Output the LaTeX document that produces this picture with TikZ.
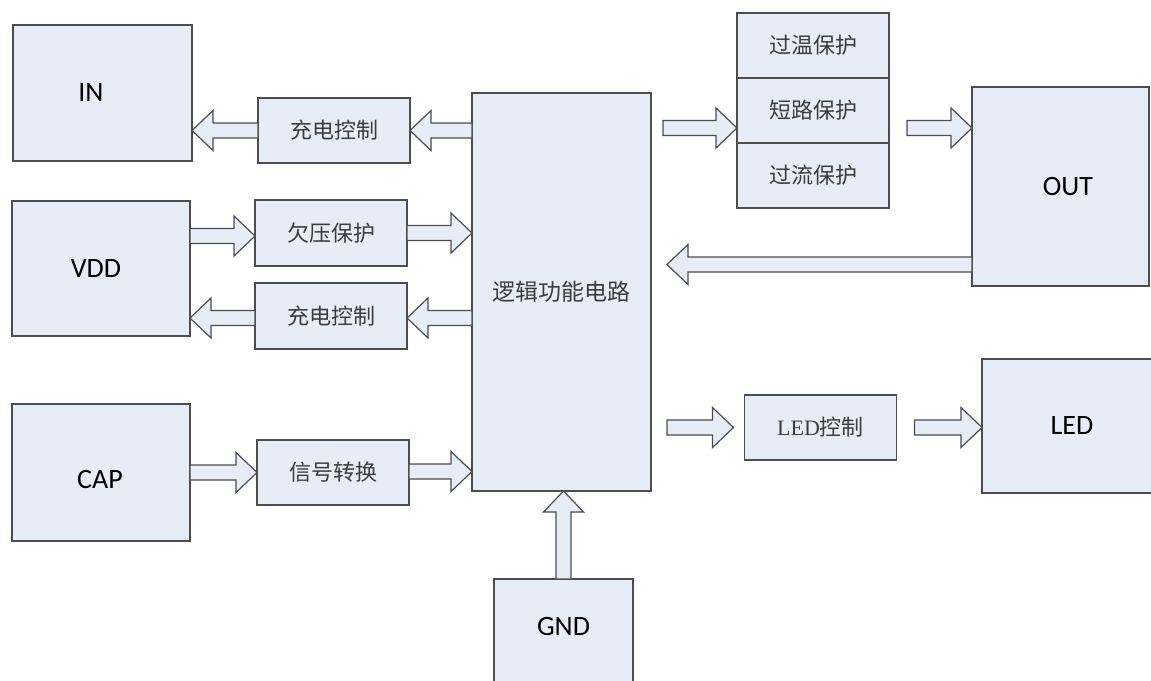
\documentclass[tikz,border=0pt]{standalone}
\usepackage{fontspec}
\usetikzlibrary{calc}
\newfontfamily\cjk{Noto Sans CJK SC}
\newfontfamily\lat{Carlito}
\newfontfamily\serifl{Liberation Serif}
\definecolor{boxfill}{HTML}{E7EDF6}
\definecolor{edge}{HTML}{4D4D4D}
\definecolor{cjktext}{HTML}{3C3C3C}
\tikzset{
  box/.style={draw=edge, fill=boxfill, line width=1.4pt, inner sep=0pt, outer sep=0pt},
  bigbox/.style={box, font=\lat\fontsize{28}{30}\selectfont, text=black},
  lbl/.style={font=\lat\fontsize{28}{30}\selectfont, text=black},
  ctlbox/.style={box, minimum width=152, minimum height=65, font=\cjk\fontsize{22}{24}\selectfont, text=cjktext},
  arr/.style={draw=edge, fill=boxfill, line width=1.2pt, line join=miter}
}
% hollow block arrow from #1 (tail) to #2 (tip)
\newcommand\barrow[2]{%
  \coordinate (ba-n) at ($(#2)!21pt!(#1)$);
  \draw[arr] ($(#1)!7.5pt!90:(#2)$) -- ($(ba-n)!7.5pt!90:(#2)$) -- ($(ba-n)!20pt!90:(#2)$)
    -- (#2) -- ($(ba-n)!20pt!-90:(#2)$) -- ($(ba-n)!7.5pt!-90:(#2)$)
    -- ($(#1)!7.5pt!-90:(#2)$) -- cycle;}
\begin{document}
\begin{tikzpicture}[x=1pt,y=-1pt]
\useasboundingbox (0,0) rectangle (1151,680);
\clip (0,0) rectangle (1151,680);
\fill[white] (0,0) rectangle (1151,680);

% left column
\node[box, minimum width=179, minimum height=136] (in)  at (102.5,93)  {};
\node[lbl] (inlbl) at (91,93) {IN};
\node[bigbox, minimum width=178, minimum height=135] (vdd) at (101,268.5) {\hspace{-10pt}VDD};
\node[box, minimum width=178, minimum height=137] (cap) at (101,472.5) {};
\node[lbl] (caplbl) at (100,480) {CAP};

% control blocks
\node[ctlbox] (ctl1) at (334,130.5) {充电控制};
\node[ctlbox, minimum height=66] (uv)   at (331,233)   {欠压保护};
\node[ctlbox, minimum height=66] (ctl2) at (331,316)   {充电控制};
\node[ctlbox] (sig)  at (333,472.5) {信号转换};

% logic core
\node[box, minimum width=179, minimum height=398, font=\cjk\fontsize{23}{25}\selectfont, text=cjktext] (logic) at (561.5,292) {逻辑功能电路};

% ground
\node[box, minimum width=139, minimum height=130, anchor=north] (gnd) at (563.5,579) {};
\node[lbl] (gndlbl) at (563.5,627) {GND};

% protection stack
\node[ctlbox] (p1) at (813,45.5)  {过温保护};
\node[ctlbox] (p2) at (813,110.5) {短路保护};
\node[ctlbox] (p3) at (813,175.5) {过流保护};

% outputs
\node[bigbox, minimum width=177, minimum height=199] (out) at (1060.5,186.5) {\hspace{15pt}OUT};
\node[ctlbox] (ledc) at (820.5,427.5) {{\serifl LED}控制};
\node[bigbox, minimum width=180, minimum height=134] (led) at (1072,426) {LED};

% arrow anchor points
\coordinate (a1s) at (logic.west |- ctl1.east);
\coordinate (a2t) at (in.east |- ctl1.west);
\coordinate (a3s) at ($(vdd.east |- uv.west)+(0,3)$);
\coordinate (a3t) at ($(uv.west)+(0,3)$);
\coordinate (a4t) at (logic.west |- uv.east);
\coordinate (a5s) at ($(logic.west |- ctl2.east)+(0,2)$);
\coordinate (a5t) at ($(ctl2.east)+(0,2)$);
\coordinate (a6s) at ($(ctl2.west)+(0,2)$);
\coordinate (a6t) at ($(vdd.east |- ctl2.west)+(0,2)$);
\coordinate (a7s) at (cap.east |- sig.west);
\coordinate (a8t) at ($(logic.west |- sig.east)+(0,-1)$);
\coordinate (a8s) at ($(sig.east)+(0,-1)$);
\coordinate (a9t) at (logic.south -| gnd.north);
\coordinate (a10s) at ($(logic.east |- p2.west)+(12,17.5)$);
\coordinate (a10t) at ($(p2.west)+(0,17.5)$);
\coordinate (a11s) at ($(p2.east)+(18,17.5)$);
\coordinate (a11t) at (out.west |- a11s);
\coordinate (a12s) at ($(out.west)+(0,78)$);
\coordinate (a12t) at (logic.east |- a12s);
\coordinate (a12tip) at ($(a12t)+(16,0)$);
\coordinate (a13s) at ($(logic.east |- ledc.west)+(16,0)$);
\coordinate (a13t) at ($(ledc.west)+(-11,0)$);
\coordinate (a14s) at ($(ledc.east)+(18,0)$);
\coordinate (a14t) at (led.west |- ledc.east);

% connectors
\barrow{a1s}{ctl1.east}
\barrow{ctl1.west}{a2t}
\barrow{a3s}{a3t}
\barrow{uv.east}{a4t}
\barrow{a5s}{a5t}
\barrow{a6s}{a6t}
\barrow{a7s}{sig.west}
\barrow{a8s}{a8t}
\barrow{gnd.north}{a9t}
\barrow{a10s}{a10t}
\barrow{a11s}{a11t}
\barrow{a12s}{a12tip}
\barrow{a13s}{a13t}
\barrow{a14s}{a14t}
\end{tikzpicture}
\end{document}
